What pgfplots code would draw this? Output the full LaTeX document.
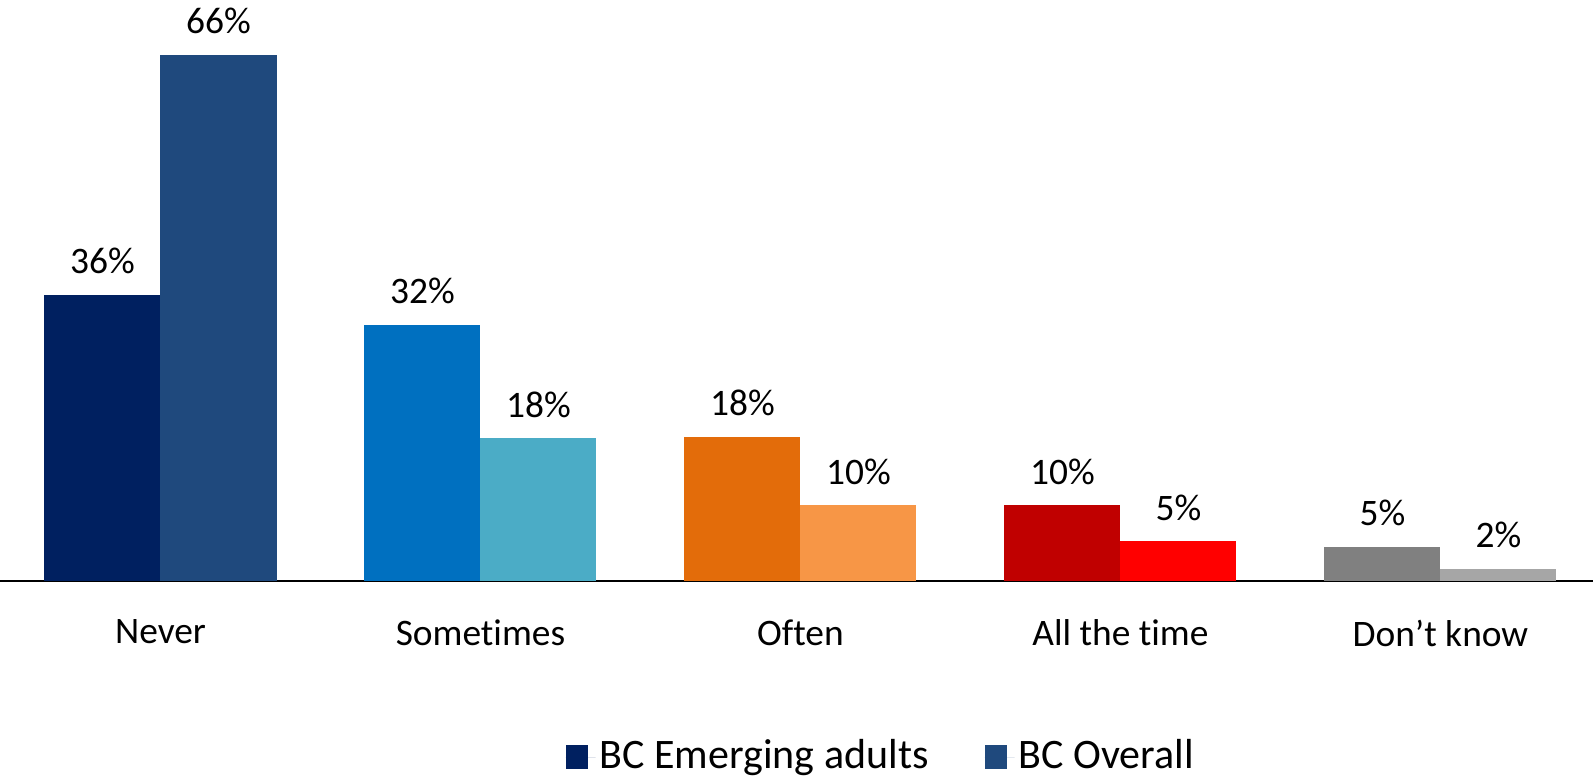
\documentclass[border=0pt]{standalone}
\usepackage{pgfplots}
\pgfplotsset{compat=1.18}
\usepackage{fontspec}
\setmainfont{Carlito}[Ligatures={NoCommon}]
\definecolor{nevA}{HTML}{002060}
\definecolor{nevB}{HTML}{1F497D}
\definecolor{somA}{HTML}{0070C0}
\definecolor{somB}{HTML}{4BACC6}
\definecolor{ofA}{HTML}{E36C0A}
\definecolor{ofB}{HTML}{F79646}
\definecolor{allA}{HTML}{C00000}
\definecolor{allB}{HTML}{FF0000}
\definecolor{dkA}{HTML}{808080}
\definecolor{dkB}{HTML}{A6A6A6}
\newcommand{\lbf}{\fontsize{18.7bp}{22bp}\selectfont}
\newcommand{\lgf}{\fontsize{21bp}{24bp}\selectfont}
\begin{document}
\lbf
\begin{tikzpicture}
\path[use as bounding box] (0,0) rectangle (796.5bp,388.5bp);
\begin{axis}[
  at={(0,98bp)}, anchor=south west,
  scale only axis, width=796.5bp, height=290.5bp,
  xmin=-0.5016, xmax=4.477, ymin=0, ymax=72.9,
  hide y axis,
  axis x line*=bottom,
  x axis line style={-, line width=1bp, black},
  xtick={0,1,2,3,4},
  xticklabels={Never,Sometimes,Often,All the time,Don’t know},
  major tick length=0pt,
  xticklabel style={font=\lbf, yshift=-13bp},
  ybar, bar width=58bp,
  nodes near coords, point meta=explicit symbolic,
  every node near coord/.append style={font=\lbf, yshift=4bp, black},
  clip=false,
  legend style={at={(0.5535,-0.303)}, anchor=center, legend columns=2, draw=none, fill=none,
    font=\lgf, nodes={font=\lgf},
    /tikz/every even column/.append style={column sep=26bp}},
]
\addplot[fill=nevA, draw=none, bar shift=-29bp,
  legend image code/.code={\fill[nevA] (0bp,-5.8bp) rectangle (11.2bp,5.8bp); \path (0bp,0bp) -- (15bp,0bp);}]
  coordinates {(0,35.9) [36\%]};
\addlegendentry{\lgf BC Emerging adults}
\addplot[fill=nevB, draw=none, bar shift=29bp,
  legend image code/.code={\fill[nevB] (0bp,-5.8bp) rectangle (11.2bp,5.8bp); \path (0bp,0bp) -- (15bp,0bp);}]
  coordinates {(0,66.0) [66\%]};
\addlegendentry{\lgf BC Overall}
\addplot[fill=somA, draw=none, bar shift=-29bp, forget plot] coordinates {(1,32.1) [32\%]};
\addplot[fill=somB, draw=none, bar shift=29bp, forget plot] coordinates {(1,17.9) [18\%]};
\addplot[fill=ofA, draw=none, bar shift=-29bp, forget plot] coordinates {(2,18.1) [18\%]};
\addplot[fill=ofB, draw=none, bar shift=29bp, forget plot] coordinates {(2,9.5) [10\%]};
\addplot[fill=allA, draw=none, bar shift=-29bp, forget plot] coordinates {(3,9.5) [10\%]};
\addplot[fill=allB, draw=none, bar shift=29bp, forget plot] coordinates {(3,4.96) [5\%]};
\addplot[fill=dkA, draw=none, bar shift=-29bp, forget plot] coordinates {(4,4.3) [5\%]};
\addplot[fill=dkB, draw=none, bar shift=29bp, forget plot] coordinates {(4,1.5) [2\%]};
\end{axis}
\end{tikzpicture}
\end{document}
